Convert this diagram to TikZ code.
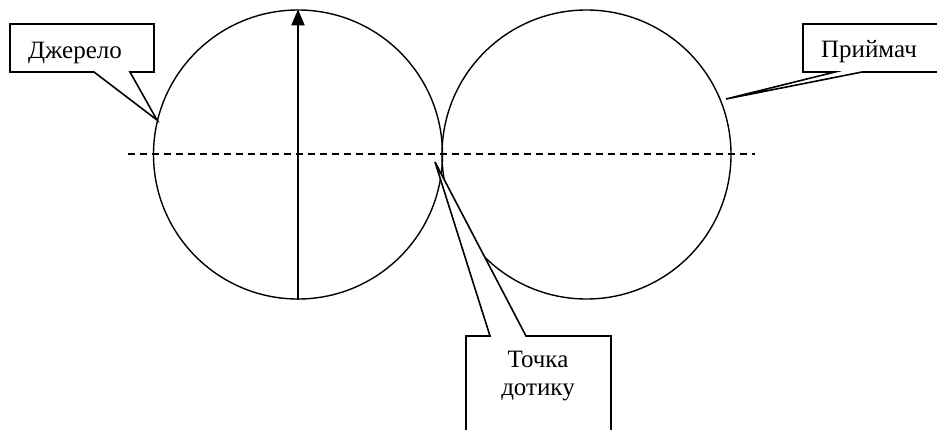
\documentclass[tikz,border=0pt]{standalone}
\usepackage{fontspec}
\setmainfont{Liberation Serif}
\usetikzlibrary{arrows.meta}
\begin{document}
\begin{tikzpicture}[x=1pt,y=-1pt,
  ring/.style={circle,draw,line width=1.4pt,minimum size=289pt,inner sep=0pt},
  callout/.style={draw,fill=white,line width=1.6pt,line join=miter},
  lbl/.style={font=\fontsize{25}{28}\selectfont,align=center,inner sep=0pt},
  axis/.style={line width=1.3pt,dash pattern=on 7pt off 5pt}]
\useasboundingbox (0,0) rectangle (937,429);
\clip (0,0) rectangle (937,429);
\node[ring] (src) at (298,154.5) {};
\node[ring] (rcv) at (586.5,154.5) {};
\coordinate (axL) at (128,154);
\coordinate (axR) at (755,154);
\draw[axis] (axL) -- (axR);
\draw[line width=1.8pt,-{Triangle[length=16pt,width=13pt]}] (src.south) -- (src.north);
% callout: source
\coordinate (t1) at (157,120);
\draw[callout] (10,24) -- (154,24) -- (154,72) -- (130,72) -- (t1) -- (94,72) -- (10,72) -- cycle;
\node[lbl,anchor=base] (l1) at (75,58) {Джерело};
% callout: receiver
\coordinate (t2) at (726,99);
\draw[callout] (803,24) -- (950,24) -- (950,72) -- (862,72) -- (t2) -- (835,72) -- (803,72) -- cycle;
\node[lbl,anchor=base] (l2) at (869,57) {Приймач};
% callout: contact point
\coordinate (t3) at (435,162);
\draw[callout] (466,440) -- (466,336) -- (490,336) -- (t3) -- (526,336) -- (611,336) -- (611,440) -- cycle;
\node[lbl] (l3) at (538,376) {Точка\\дотику};
\end{tikzpicture}
\end{document}
